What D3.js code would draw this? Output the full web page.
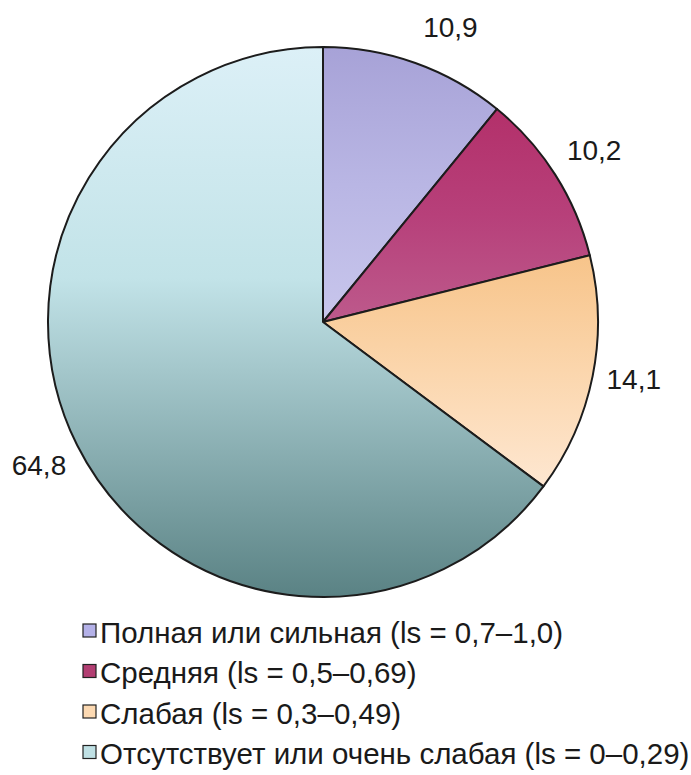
<!DOCTYPE html>
<html>
<head>
<meta charset="utf-8">
<script src="https://cdn.jsdelivr.net/npm/d3@7"></script>
<style>
  html, body { margin: 0; padding: 0; background: #ffffff; }
  svg { display: block; }
  text { font-family: "Liberation Sans", Arial, sans-serif; fill: #1a1a1a; }
</style>
</head>
<body>
<svg id="chart" width="691" height="775"></svg>
<script>
// Share of cases by strength of association (%)
const categories = [
  "Полная или сильная (ls = 0,7–1,0)",
  "Средняя (ls = 0,5–0,69)",
  "Слабая (ls = 0,3–0,49)",
  "Отсутствует или очень слабая (ls = 0–0,29)"
];
const values = [10.9, 10.2, 14.1, 64.8];
const valueLabels = ["10,9", "10,2", "14,1", "64,8"];

// vertical gradient stops per slice, top to bottom
const gradientStops = [
  ["#a7a2d7", "#b9b6e4", "#c8c6ec"],
  ["#b3306a", "#b7407a", "#bd5a8c"],
  ["#f7c48a", "#fbd6ad", "#fee7d1"],
  ["#dcf0f7", "#c2e3e8", "#5a8284"]
];
const swatchColors = ["#b4b1e8", "#b23e72", "#fcd9b2", "#bfe0e4"];

const svg = d3.select("#chart");
const cx = 323, cy = 322, radius = 275;

const defs = svg.append("defs");
gradientStops.forEach((stops, i) => {
  const g = defs.append("linearGradient")
    .attr("id", "grad" + i)
    .attr("x1", 0).attr("y1", 0).attr("x2", 0).attr("y2", 1);
  const offsets = i === 3 ? [0, 0.42, 1] : [0, 0.5, 1];
  stops.forEach((c, k) => {
    g.append("stop").attr("offset", offsets[k]).attr("stop-color", c);
  });
});

const pie = d3.pie().sort(null).value(d => d)(values);
const arc = d3.arc().innerRadius(0).outerRadius(radius);

const g = svg.append("g").attr("transform", `translate(${cx},${cy})`);

g.selectAll("path.slice")
  .data(pie)
  .join("path")
  .attr("class", "slice")
  .attr("d", arc)
  .attr("fill", (d, i) => `url(#grad${i})`)
  .attr("stroke", "#1c1c1c")
  .attr("stroke-width", 2)
  .attr("stroke-linejoin", "round");

// value labels outside the rim along each slice's mid angle
const labelArc = d3.arc().innerRadius(320).outerRadius(320);
const labelNudge = [[20, 7], [1, 0], [-3, -5], [2, 0]];
g.selectAll("text.val")
  .data(pie)
  .join("text")
  .attr("class", "val")
  .attr("transform", (d, i) => {
    const [x, y] = labelArc.centroid(d);
    return `translate(${x + labelNudge[i][0]},${y + labelNudge[i][1]})`;
  })
  .attr("text-anchor", "middle")
  .attr("dominant-baseline", "central")
  .attr("font-size", 28)
  .text((d, i) => valueLabels[i]);

// legend
const legend = svg.append("g").attr("transform", "translate(83,631)");
const rowH = 40.5;
const rows = legend.selectAll("g.row")
  .data(categories)
  .join("g")
  .attr("class", "row")
  .attr("transform", (d, i) => `translate(0,${i * rowH})`);

rows.append("rect")
  .attr("x", 0).attr("y", -7)
  .attr("width", 13).attr("height", 13)
  .attr("fill", (d, i) => swatchColors[i])
  .attr("stroke", "#222")
  .attr("stroke-width", 1.2);

rows.append("text")
  .attr("x", 17)
  .attr("y", 1)
  .attr("dominant-baseline", "central")
  .attr("font-size", 29.5)
  .text(d => d);
</script>
</body>
</html>
